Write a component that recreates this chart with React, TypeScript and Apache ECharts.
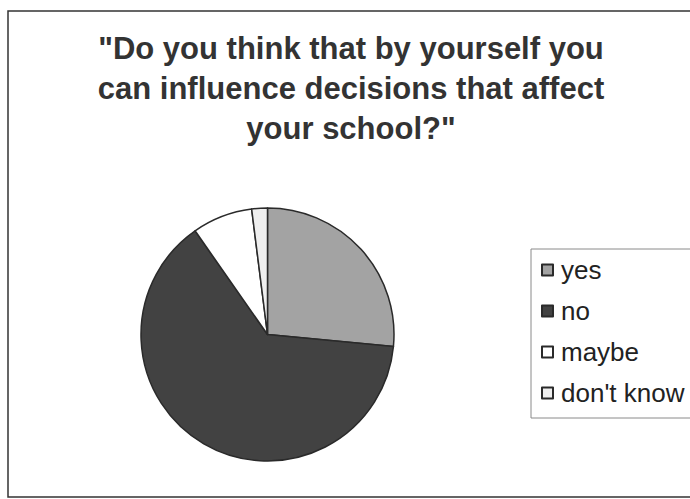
import React, { useEffect, useRef } from "react";
import * as echarts from "echarts";

const categories = ["yes", "no", "maybe", "don't know"];
const values = [26.5, 63.8, 7.7, 2.0];
const colors = ["#a3a3a3", "#424242", "#ffffff", "#efefef"];
const titleLines = [
  '"Do you think that by yourself you',
  "can influence decisions that affect",
  'your school?"',
];

export default function App() {
  const ref = useRef<HTMLDivElement>(null);
  useEffect(() => {
    if (!ref.current) return;
    const chart = echarts.init(ref.current, null, { renderer: "svg" });
    chart.setOption({
      animation: false,
      backgroundColor: "#ffffff",
      title: {
        text: titleLines.join("\n"),
        left: 351,
        textAlign: "center",
        top: 28,
        padding: 0,
        textStyle: {
          fontFamily: "Liberation Sans, Arial, sans-serif",
          fontSize: 31,
          fontWeight: "bold",
          lineHeight: 40,
          color: "#333333",
        },
      },
      legend: {
        orient: "vertical",
        left: 541,
        top: 257,
        padding: 0,
        itemWidth: 11,
        itemHeight: 11,
        itemGap: 15,
        icon: "rect",
        data: categories,
        textStyle: {
          fontFamily: "Liberation Sans, Arial, sans-serif",
          fontSize: 26,
          lineHeight: 26,
          color: "#222222",
          padding: [0, 0, 0, 3],
        },
      },
      graphic: [
        {
          type: "rect",
          shape: { x: 8, y: 11, width: 700, height: 486 },
          style: { fill: "none", stroke: "#333333", lineWidth: 1.5 },
          silent: true,
        },
        {
          type: "rect",
          shape: { x: 531, y: 249, width: 200, height: 169 },
          style: { fill: "none", stroke: "#8a8a8a", lineWidth: 1 },
          silent: true,
        },
      ],
      series: [
        {
          type: "pie",
          center: [267.5, 334.5],
          radius: 126.5,
          startAngle: 90,
          clockwise: true,
          label: { show: false },
          labelLine: { show: false },
          emphasis: { disabled: true },
          itemStyle: { borderColor: "#2a2a2a", borderWidth: 1.5 },
          data: categories.map((name, i) => ({
            name,
            value: values[i],
            itemStyle: { color: colors[i] },
          })),
        },
      ],
    });
    return () => chart.dispose();
  }, []);
  return (
    <div
      ref={ref}
      style={{ position: "fixed", left: 0, top: 0, width: 690, height: 499 }}
    />
  );
}
